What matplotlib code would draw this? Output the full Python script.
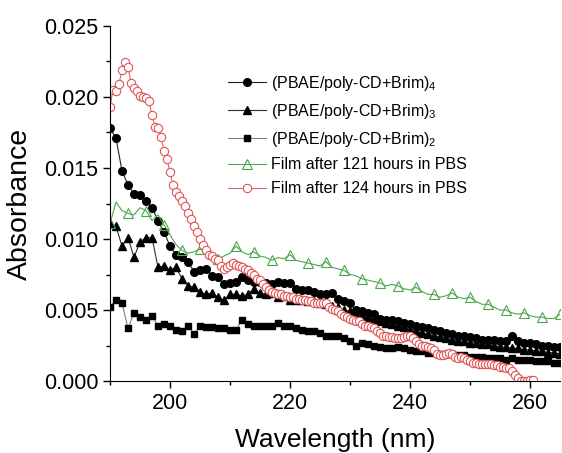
import numpy as np
import matplotlib
matplotlib.use("Agg")
import matplotlib.pyplot as plt
from matplotlib.ticker import MultipleLocator

plt.rcParams['font.family'] = ['Liberation Sans', 'DejaVu Sans']
plt.rcParams['mathtext.default'] = 'regular'

# wavelength grids (nm)
wl_1nm = np.arange(190, 266, 1)
wl_half = np.arange(190, 261, 0.5)

# (PBAE/poly-CD+Brim)4  - filled circles, 1 nm steps
brim4 = [0.0178, 0.0171, 0.0148, 0.0138, 0.0132, 0.0131, 0.0127, 0.0122, 0.0113, 0.0105,
         0.0095, 0.0089, 0.0087, 0.0084, 0.0077, 0.0078, 0.0079, 0.0074, 0.0073, 0.0068,
         0.0069, 0.0070, 0.0073, 0.0071, 0.0070, 0.0070, 0.0069, 0.0068, 0.0070, 0.0069,
         0.0069, 0.0065, 0.0064, 0.0064, 0.0063, 0.0061, 0.0061, 0.0062, 0.0058, 0.0056,
         0.0055, 0.0050, 0.0049, 0.0048, 0.0047, 0.0044, 0.0043, 0.0043, 0.0042, 0.0041,
         0.0040, 0.0039, 0.0038, 0.0037, 0.0036, 0.0035, 0.0034, 0.0033, 0.0032, 0.0032,
         0.0031, 0.0030, 0.0029, 0.0029, 0.0029, 0.0028, 0.0028, 0.0032, 0.0028, 0.0027,
         0.0027, 0.0026, 0.0025, 0.0025, 0.0024, 0.0024]

# (PBAE/poly-CD+Brim)3  - filled triangles
brim3 = [0.0111, 0.0109, 0.0095, 0.0101, 0.0087, 0.0098, 0.0101, 0.0101, 0.0080, 0.0081,
         0.0078, 0.0080, 0.0072, 0.0067, 0.0066, 0.0063, 0.0061, 0.0062, 0.0059, 0.0057,
         0.0061, 0.0061, 0.0060, 0.0061, 0.0065, 0.0062, 0.0061, 0.0062, 0.0059, 0.0060,
         0.0057, 0.0057, 0.0057, 0.0056, 0.0056, 0.0055, 0.0054, 0.0053, 0.0052, 0.0050,
         0.0049, 0.0047, 0.0046, 0.0045, 0.0044, 0.0042, 0.0041, 0.0040, 0.0039, 0.0038,
         0.0036, 0.0035, 0.0034, 0.0033, 0.0032, 0.0031, 0.0030, 0.0029, 0.0028, 0.0028,
         0.0027, 0.0027, 0.0026, 0.0026, 0.0025, 0.0024, 0.0024, 0.0023, 0.0023, 0.0022,
         0.0022, 0.0021, 0.0021, 0.0020, 0.0020, 0.0019]

# (PBAE/poly-CD+Brim)2  - filled squares
brim2 = [0.0052, 0.0057, 0.0055, 0.0037, 0.0048, 0.0045, 0.0043, 0.0046, 0.0039, 0.0040,
         0.0039, 0.0036, 0.0035, 0.0039, 0.0033, 0.0039, 0.0038, 0.0038, 0.0037, 0.0037,
         0.0036, 0.0036, 0.0043, 0.0040, 0.0039, 0.0039, 0.0039, 0.0039, 0.0041, 0.0039,
         0.0039, 0.0037, 0.0036, 0.0035, 0.0035, 0.0034, 0.0032, 0.0032, 0.0032, 0.0030,
         0.0028, 0.0025, 0.0027, 0.0026, 0.0025, 0.0024, 0.0023, 0.0023, 0.0024, 0.0023,
         0.0022, 0.0021, 0.0021, 0.0020, 0.0020, 0.0019, 0.0019, 0.0019, 0.0018, 0.0018,
         0.0017, 0.0017, 0.0017, 0.0016, 0.0016, 0.0016, 0.0015, 0.0016, 0.0015, 0.0015,
         0.0015, 0.0014, 0.0014, 0.0014, 0.0013, 0.0013]

# Film after 121 hours in PBS - open triangles (marker every 3 nm)
film121 = [0.0111, 0.0126, 0.0120, 0.0118, 0.0117, 0.0122, 0.0120, 0.0113, 0.0117, 0.0110,
           0.0103, 0.0096, 0.0092, 0.0090, 0.0091, 0.0093, 0.0090, 0.0089, 0.0086, 0.0088,
           0.0090, 0.0095, 0.0091, 0.0089, 0.0091, 0.0088, 0.0087, 0.0085, 0.0087, 0.0086,
           0.0089, 0.0085, 0.0084, 0.0083, 0.0082, 0.0081, 0.0084, 0.0080, 0.0079, 0.0078,
           0.0075, 0.0074, 0.0072, 0.0071, 0.0070, 0.0069, 0.0067, 0.0068, 0.0067, 0.0065,
           0.0064, 0.0066, 0.0063, 0.0061, 0.0061, 0.0059, 0.0060, 0.0062, 0.0059, 0.0058,
           0.0059, 0.0056, 0.0054, 0.0054, 0.0052, 0.0050, 0.0050, 0.0048, 0.0047, 0.0048,
           0.0046, 0.0045, 0.0045, 0.0044, 0.0044, 0.0047]

# Film after 124 hours in PBS - open circles, 0.5 nm steps
film124 = [0.0193, 0.0205, 0.0204, 0.0209, 0.0219, 0.0225, 0.0221, 0.0210, 0.0206, 0.0204,
           0.0201, 0.0200, 0.0199, 0.0197, 0.0187, 0.0179, 0.0178, 0.0172, 0.0162, 0.0156,
           0.0147, 0.0138, 0.0133, 0.0130, 0.0127, 0.0123, 0.0118, 0.0114, 0.0109, 0.0105,
           0.0100, 0.0096, 0.0092, 0.0089, 0.0088, 0.0086, 0.0085, 0.0081, 0.0079, 0.0080,
           0.0082, 0.0083, 0.0082, 0.0081, 0.0080, 0.0079, 0.0078, 0.0076, 0.0075, 0.0072,
           0.0071, 0.0068, 0.0066, 0.0064, 0.0063, 0.0062, 0.0061, 0.0061, 0.0060, 0.0060,
           0.0059, 0.0059, 0.0058, 0.0058, 0.0057, 0.0057, 0.0056, 0.0056, 0.0055, 0.0055,
           0.0055, 0.0055, 0.0055, 0.0052, 0.0051, 0.0050, 0.0049, 0.0047, 0.0046, 0.0045,
           0.0044, 0.0043, 0.0042, 0.0042, 0.0040, 0.0039, 0.0039, 0.0038, 0.0037, 0.0035,
           0.0034, 0.0032, 0.0032, 0.0031, 0.0031, 0.0030, 0.0030, 0.0030, 0.0031, 0.0032,
           0.0032, 0.0030, 0.0028, 0.0026, 0.0025, 0.0025, 0.0024, 0.0023, 0.0022, 0.0019,
           0.0018, 0.0018, 0.0019, 0.0020, 0.0019, 0.0017, 0.0016, 0.0017, 0.0016, 0.0015,
           0.0014, 0.0013, 0.0013, 0.0012, 0.0012, 0.0012, 0.0012, 0.0012, 0.0011, 0.0011,
           0.0010, 0.0010, 0.0009, 0.0009, 0.0007, 0.0004, 0.0002, 0.0000, 0.0000, 0.0000,
           0.0001, 0.0001]

labels = [r'(PBAE/poly-CD+Brim)$_4$', r'(PBAE/poly-CD+Brim)$_3$', r'(PBAE/poly-CD+Brim)$_2$',
          'Film after 121 hours in PBS', 'Film after 124 hours in PBS']

fig = plt.figure(figsize=(5.62, 4.53), dpi=100)
ax = fig.add_axes([110 / 562, 1 - 381 / 453, 450 / 562, 355 / 453])

ax.plot(wl_1nm, brim4, color='#202020', lw=0.8, marker='o', ms=5.5, mfc='black', mec='black', label=labels[0])
ax.plot(wl_1nm, brim3, color='#303030', lw=0.8, marker='^', ms=6, mfc='black', mec='black', label=labels[1])
ax.plot(wl_1nm, brim2, color='#808080', lw=0.8, marker='s', ms=5, mfc='black', mec='black', label=labels[2])
ax.plot(wl_1nm, film121, color='#4da64d', lw=0.8, marker='^', ms=6.5, markevery=3,
        mfc='none', mec='#4da64d', mew=0.8, label=labels[3])
ax.plot(wl_half, film124, color='#e06666', lw=0.8, marker='o', ms=6, mfc='white',
        mec='#e05555', mew=0.8, label=labels[4])

ax.set_xlim(190, 265)
ax.set_ylim(0, 0.025)
ax.xaxis.set_major_locator(MultipleLocator(20))
ax.xaxis.set_minor_locator(MultipleLocator(10))
ax.yaxis.set_major_locator(MultipleLocator(0.005))
ax.yaxis.set_minor_locator(MultipleLocator(0.0025))
ax.xaxis.set_major_formatter(plt.FuncFormatter(lambda v, p: '%d' % v))
ax.yaxis.set_major_formatter(plt.FuncFormatter(lambda v, p: '%.3f' % v))
ax.spines['top'].set_visible(False)
ax.spines['right'].set_visible(False)
ax.tick_params(which='major', direction='out', length=5, width=1, labelsize=15.5)
ax.tick_params(which='minor', direction='out', length=3, width=1)
ax.set_xlabel('Wavelength (nm)', fontsize=19, labelpad=10)
ax.set_ylabel('Absorbance', fontsize=20.5, labelpad=8)

ax.legend(loc='upper left', bbox_to_anchor=(228 / 562, 1 - 74 / 453), bbox_transform=fig.transFigure,
          frameon=False, fontsize=11.5, handlelength=2.4, handletextpad=0.3, labelspacing=0.55,
          borderpad=0, borderaxespad=0)

fig.savefig('out.png', dpi=100)
